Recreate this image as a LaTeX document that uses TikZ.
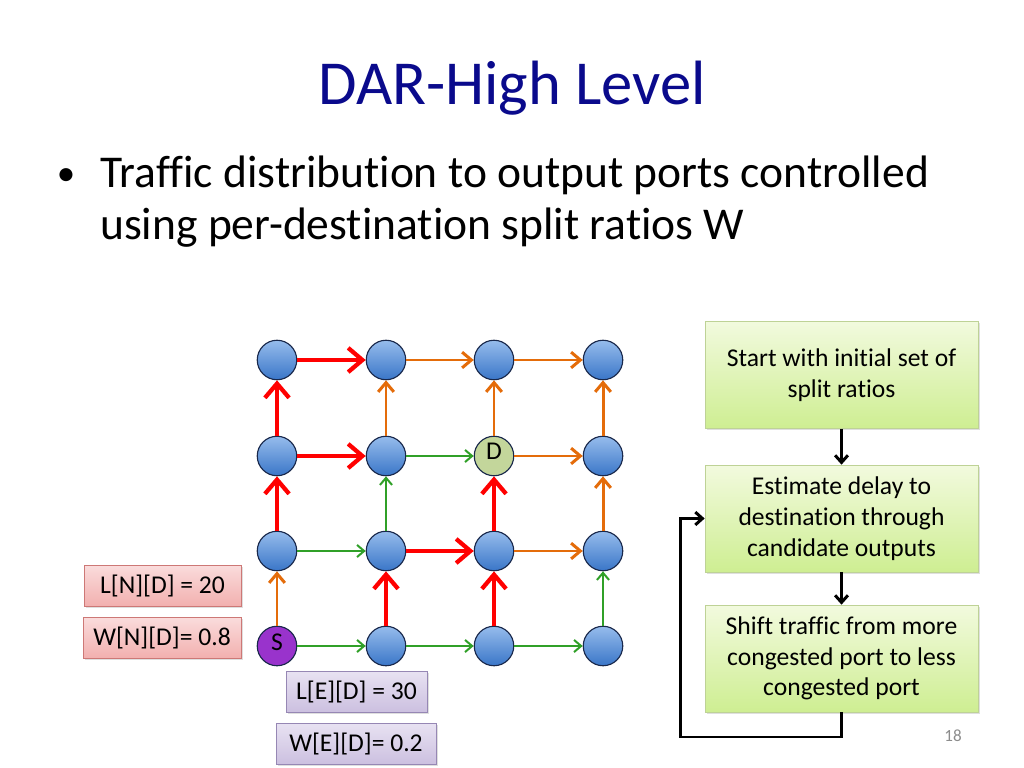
\documentclass[tikz,border=0pt]{standalone}
\usepackage{fontspec}
\setmainfont{Carlito}[Ligatures=NoCommon]
\usetikzlibrary{arrows.meta,shadows}
\newdimen\PXu \PXu=0.703125pt
\definecolor{titleblue}{RGB}{10,10,140}
\definecolor{redE}{RGB}{255,0,0}
\definecolor{orangeE}{RGB}{228,108,10}
\definecolor{greenE}{RGB}{48,160,40}
\definecolor{nodetop}{RGB}{150,188,236}
\definecolor{nodebot}{RGB}{58,118,200}
\definecolor{nodeline}{RGB}{25,40,75}
\definecolor{spurple}{RGB}{153,51,204}
\definecolor{dgreen}{RGB}{195,214,155}
\definecolor{flowtop}{RGB}{242,250,222}
\definecolor{flowbot}{RGB}{206,238,146}
\definecolor{flowline}{RGB}{190,210,150}
\definecolor{pinktop}{RGB}{250,220,220}
\definecolor{pinkbot}{RGB}{242,176,175}
\definecolor{pinkline}{RGB}{205,120,118}
\definecolor{lavtop}{RGB}{232,226,242}
\definecolor{lavbot}{RGB}{204,192,224}
\definecolor{lavline}{RGB}{150,135,180}
\begin{document}
\begin{tikzpicture}[x=0.703125pt,y=-0.703125pt,
  gnode/.style={circle,draw=nodeline,line width=0.8pt,minimum size=39.5\PXu,inner sep=0pt,
    top color=nodetop,bottom color=nodebot,font=\fontsize{18}{20}\selectfont},
  redarrow/.style={draw=redE,line width=3pt,-{Straight Barb[length=10pt,width=17pt]}},
  orangearrow/.style={draw=orangeE,line width=2.1pt,-{Straight Barb[length=6.5pt,width=11pt]}},
  greenarrow/.style={draw=greenE,line width=1.4pt,-{Straight Barb[length=5pt,width=8.5pt]}},
  flowbox/.style={rectangle,draw=flowline,line width=0.5pt,top color=flowtop,bottom color=flowbot,
    minimum width=273\PXu,minimum height=107\PXu,align=center,inner sep=0pt,
    font=\fontsize{18}{21.6}\selectfont,drop shadow={shadow xshift=1.2pt,shadow yshift=-1.2pt,opacity=0.25}},
  flowarrow/.style={draw=black,line width=2.1pt,-{Straight Barb[length=5pt,width=9pt]}},
  pinkbox/.style={rectangle,draw=pinkline,line width=0.5pt,top color=pinktop,bottom color=pinkbot,
    minimum height=41\PXu,inner sep=0pt,font=\fontsize{18}{20}\selectfont,
    drop shadow={shadow xshift=1.2pt,shadow yshift=-1.2pt,opacity=0.25}},
  lavbox/.style={rectangle,draw=lavline,line width=0.5pt,top color=lavtop,bottom color=lavbot,
    minimum height=41\PXu,inner sep=0pt,font=\fontsize{18}{20}\selectfont,
    drop shadow={shadow xshift=1.2pt,shadow yshift=-1.2pt,opacity=0.25}}]
\useasboundingbox (0,0) rectangle (1024,768);
\fill[white] (0,0) rectangle (1024,768);
% title and bullet
\node[anchor=base,text=titleblue,font=\fontsize{44}{52}\selectfont] (title) at (512,105) {DAR-High Level};
\node[anchor=base,font=\fontsize{26}{30}\selectfont] (bul) at (66,186) {•};
\node[anchor=base west,inner sep=0pt,font=\fontsize{32}{38}\selectfont] (l1) at (100,188) {Traffic distribution to output ports controlled};
\node[anchor=base west,inner sep=0pt,font=\fontsize{32}{38}\selectfont] (l2) at (100,240) {using per-destination split ratios W};
% grid nodes: n<col><row>, row 0 = bottom
\node[gnode] (n03) at (277,360) {};
\node[gnode] (n13) at (386,360) {};
\node[gnode] (n23) at (494,360) {};
\node[gnode] (n33) at (603,360) {};
\node[gnode] (n02) at (277,456) {};
\node[gnode] (n12) at (386,456) {};
\node[gnode,fill=dgreen,top color=dgreen,bottom color=dgreen] (n22) at (494,456) {\raisebox{6pt}{D}};
\node[gnode] (n32) at (603,456) {};
\node[gnode] (n01) at (277,551) {};
\node[gnode] (n11) at (386,551) {};
\node[gnode] (n21) at (494,551) {};
\node[gnode] (n31) at (603,551) {};
\node[gnode,fill=spurple,top color=spurple,bottom color=spurple] (n00) at (277,646) {\raisebox{6pt}{S}};
\node[gnode] (n10) at (386,646) {};
\node[gnode] (n20) at (494,646) {};
\node[gnode] (n30) at (603,646) {};
% horizontal edges
\draw[redarrow] (n03) -- (n13);
\draw[orangearrow] (n13) -- (n23);
\draw[orangearrow] (n23) -- (n33);
\draw[redarrow] (n02) -- (n12);
\draw[greenarrow] (n12) -- (n22);
\draw[orangearrow] (n22) -- (n32);
\draw[greenarrow] (n01) -- (n11);
\draw[redarrow] (n11) -- (n21);
\draw[orangearrow] (n21) -- (n31);
\draw[greenarrow] (n00) -- (n10);
\draw[greenarrow] (n10) -- (n20);
\draw[greenarrow] (n20) -- (n30);
% vertical edges
\draw[orangearrow] (n00) -- (n01);
\draw[redarrow] (n01) -- (n02);
\draw[redarrow] (n02) -- (n03);
\draw[redarrow] (n10) -- (n11);
\draw[greenarrow] (n11) -- (n12);
\draw[orangearrow] (n12) -- (n13);
\draw[redarrow] (n20) -- (n21);
\draw[redarrow] (n21) -- (n22);
\draw[orangearrow] (n22) -- (n23);
\draw[greenarrow] (n30) -- (n31);
\draw[orangearrow] (n31) -- (n32);
\draw[orangearrow] (n32) -- (n33);
% label boxes
\node[pinkbox,minimum width=157\PXu] (lnd) at (162.5,585.5) {L[N][D] = 20};
\node[pinkbox,minimum width=158\PXu] (wnd) at (162,637.5) {W[N][D]= 0.8};
\node[lavbox,minimum width=141\PXu] (led) at (356.5,691.5) {L[E][D] = 30};
\node[lavbox,minimum width=160\PXu] (wed) at (356,743.5) {W[E][D]= 0.2};
% flowchart
\node[flowbox] (b1) at (841.5,375) {Start with initial set of\\split ratios};
\node[flowbox] (b2) at (841.5,518.5) {Estimate delay to\\destination through\\candidate outputs};
\node[flowbox] (b3) at (841.5,658.5) {Shift traffic from more\\congested port to less\\congested port};
\draw[flowarrow] (b1) -- (b2);
\draw[flowarrow] (b2) -- (b3);
\coordinate (loopA) at (680,737);
\draw[flowarrow] (b3.south) |- (loopA) |- (b2.west);
\node[anchor=base,text=black!45,font=\fontsize{12}{14}\selectfont] (pg) at (953,741) {18};
\end{tikzpicture}
\end{document}
